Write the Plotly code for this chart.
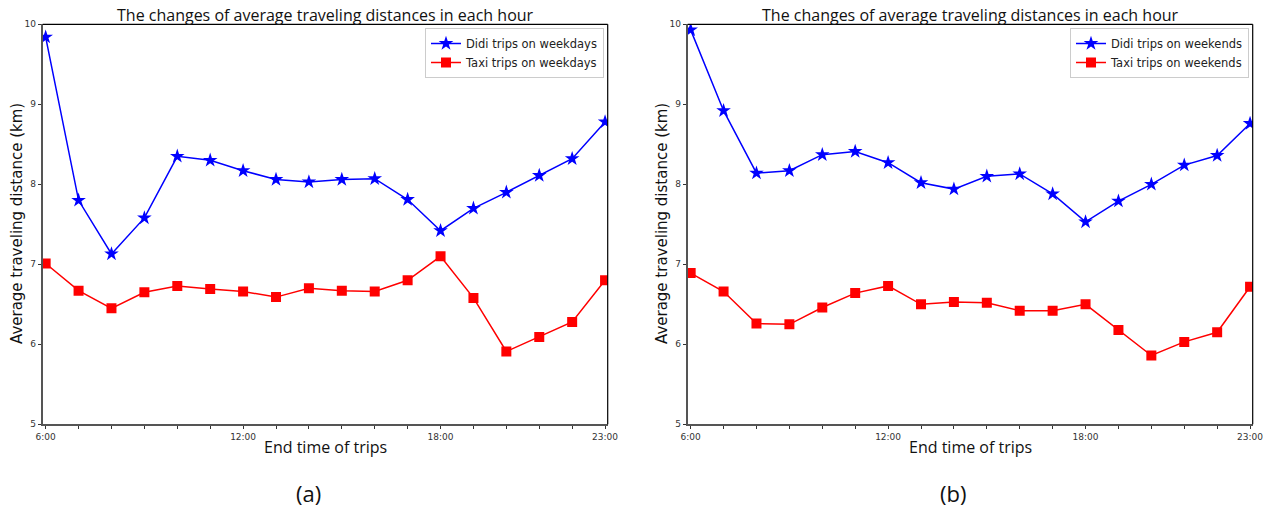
import plotly.graph_objects as go

hours = list(range(6, 24))
tick_labels = {6: "6:00", 12: "12:00", 18: "18:00", 23: "23:00"}

didi_weekdays = [9.84, 7.80, 7.13, 7.58, 8.35, 8.30, 8.17, 8.06, 8.03, 8.06, 8.07, 7.81, 7.42, 7.70, 7.90, 8.11, 8.32, 8.78]
taxi_weekdays = [7.01, 6.67, 6.45, 6.65, 6.73, 6.69, 6.66, 6.59, 6.70, 6.67, 6.66, 6.80, 7.10, 6.58, 5.91, 6.09, 6.28, 6.80]
didi_weekends = [9.93, 8.92, 8.14, 8.17, 8.37, 8.41, 8.27, 8.02, 7.94, 8.10, 8.13, 7.88, 7.53, 7.79, 8.00, 8.24, 8.36, 8.76]
taxi_weekends = [6.89, 6.66, 6.26, 6.25, 6.46, 6.64, 6.73, 6.50, 6.53, 6.52, 6.42, 6.42, 6.50, 6.18, 5.86, 6.03, 6.15, 6.72]

W, H = 1263, 510
fig = go.Figure()

def add_series(x_ax, y_ax, legend, didi, taxi, label):
    fig.add_trace(go.Scatter(
        x=hours, y=didi, mode="lines+markers", name=f"Didi trips on {label}",
        xaxis=x_ax, yaxis=y_ax, legend=legend,
        line=dict(color="#0000ff", width=1.5),
        marker=dict(symbol="star", size=11, color="#0000ff", line=dict(width=0))))
    fig.add_trace(go.Scatter(
        x=hours, y=taxi, mode="lines+markers", name=f"Taxi trips on {label}",
        xaxis=x_ax, yaxis=y_ax, legend=legend,
        line=dict(color="#ff0000", width=1.5),
        marker=dict(symbol="square", size=10, color="#ff0000", line=dict(width=0))))

add_series("x", "y", "legend", didi_weekdays, taxi_weekdays, "weekdays")
add_series("x2", "y2", "legend2", didi_weekends, taxi_weekends, "weekends")

tick_font = dict(family="DejaVu Sans", size=9, color="#333")
ticktext = [tick_labels.get(h, "") for h in hours]

def xaxis(domain, anchor):
    return dict(domain=domain, anchor=anchor, range=[5.91, 23.08], automargin=False,
                ticklabeloverflow="allow",
                tickvals=hours, ticktext=ticktext, ticks="outside", ticklen=3,
                tickcolor="#333", tickfont=tick_font, showgrid=False, zeroline=False,
                showline=True, linecolor="#555", linewidth=2)

def yaxis(domain, anchor):
    return dict(domain=domain, anchor=anchor, range=[5, 10], tickvals=[5, 6, 7, 8, 9, 10],
                automargin=False, ticklabeloverflow="allow",
                ticks="outside", ticklen=3, tickcolor="#333", tickfont=tick_font,
                showgrid=False, zeroline=False, showline=True, linecolor="#555", linewidth=2)

x1d = [42.7 / W, 607.7 / W]
x2d = [687.7 / W, 1252.7 / W]
yd = [1 - 424.3 / H, 1 - 24.3 / H]

legend_style = dict(yanchor="top", xanchor="right", bordercolor="#cccccc", borderwidth=1,
                    bgcolor="white", font=dict(family="DejaVu Sans", size=11.5, color="#222"),
                    tracegroupgap=0, itemwidth=30)

fig.update_layout(
    width=W, height=H, margin=dict(l=0, r=0, t=0, b=0, autoexpand=False),
    paper_bgcolor="white", plot_bgcolor="white",
    xaxis=xaxis(x1d, "y"), yaxis=yaxis(yd, "x"),
    xaxis2=xaxis(x2d, "y2"), yaxis2=yaxis(yd, "x2"),
    legend=dict(x=604 / W, y=1 - 28 / H, **legend_style),
    legend2=dict(x=1249 / W, y=1 - 28 / H, **legend_style),
    showlegend=True,
)

for xr, yr in (("x domain", "y domain"), ("x2 domain", "y2 domain")):
    fig.add_shape(type="line", xref=xr, yref=yr, x0=0, x1=1, y0=1, y1=1, line=dict(color="black", width=1.2))
    fig.add_shape(type="line", xref=xr, yref=yr, x0=1, x1=1, y0=0, y1=1, line=dict(color="black", width=1.2))

title = "The changes of average traveling distances in each hour"

def ann(text, x, y, size, family="Open Sans", angle=0):
    fig.add_annotation(text=text, x=x / W, y=1 - y / H, xref="paper", yref="paper",
                       xanchor="center", yanchor="middle", textangle=angle, showarrow=False,
                       font=dict(family=family, size=size, color="#111"))

for cx, ylab_x, tag, tag_x in ((325, 17, "(a)", 308), (970, 662, "(b)", 953)):
    ann(title, cx, 15, 16)
    ann("End time of trips", cx, 447, 16)
    ann("Average traveling distance (km)", ylab_x, 224, 15, family="DejaVu Sans", angle=-90)
    ann(tag, tag_x, 493, 22)

fig.write_html("out.html", post_script="document.body.style.margin='0';document.body.style.overflow='hidden';")
